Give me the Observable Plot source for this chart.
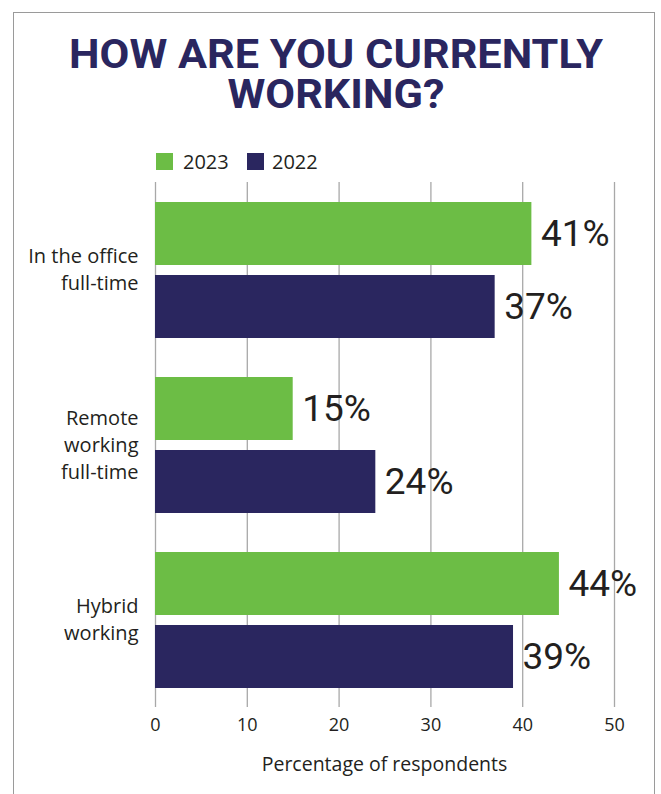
<!DOCTYPE html>
<html><head><meta charset="utf-8">
<script src="https://cdn.jsdelivr.net/npm/d3@7"></script>
<script src="https://cdn.jsdelivr.net/npm/@observablehq/plot@0.6"></script>
<style>
html,body{margin:0;padding:0;background:#fff;}
#root{position:relative;width:661px;height:794px;overflow:hidden;font-family:"Open Sans",sans-serif;background:#fff;}
#frame{position:absolute;left:13px;top:12px;width:642px;height:820px;border:1.5px solid #9a9a9a;border-bottom:none;box-sizing:border-box;}
#titlesvg{position:absolute;left:0;top:0;}
.sw{position:absolute;width:17px;height:17px;}
.lt{position:absolute;font-family:"Open Sans",sans-serif;font-size:20px;line-height:20px;color:#231f20;white-space:nowrap;}
#chart{position:absolute;left:0;top:175px;}
#xlabel{position:absolute;left:155px;width:459px;top:754px;text-align:center;font-family:"Open Sans",sans-serif;font-size:19.5px;line-height:19.5px;color:#231f20;white-space:nowrap;}
</style>
</head>
<body>
<div id="root">
  <div id="frame"></div>
  <svg id="titlesvg" width="661" height="125">
    <text id="title" transform="translate(336,0)" text-anchor="middle" font-family="Roboto, sans-serif" font-weight="700" font-size="40" fill="#2a265f"><tspan id="t1" x="0" y="68">HOW ARE YOU CURRENTLY</tspan><tspan x="0" y="108">WORKING?</tspan></text>
  </svg>
  <div id="legend"></div>
  <div id="chart"></div>
  <div id="xlabel">Percentage of respondents</div>
</div>
<script>
const categories = ["In the office full-time", "Remote working full-time", "Hybrid working"];
const categoryLabels = ["In the office\nfull-time", "Remote\nworking\nfull-time", "Hybrid\nworking"];
const years = ["2023", "2022"];
const values2023 = [41, 15, 44];
const values2022 = [37, 24, 39];
const xTicks = [0, 10, 20, 30, 40, 50];
const colors = ["#6cbd45", "#2a265f"];

const data = categories.flatMap((c, i) => [
  {category: c, label: categoryLabels[i], year: years[0], value: values2023[i]},
  {category: c, label: categoryLabels[i], year: years[1], value: values2022[i]}
]);

// Title horizontal fit (condensed look)
const t1 = document.getElementById("t1");
const title = document.getElementById("title");
function fitTitle(){
  title.setAttribute("transform", "translate(336,0)");
  const w = t1.getComputedTextLength();
  if (w > 0) title.setAttribute("transform", `translate(336,0) scale(${534 / w},1)`);
}
fitTitle();
if (document.fonts && document.fonts.ready) document.fonts.ready.then(fitTitle);

// Legend
const legend = document.getElementById("legend");
const legendPos = [{sx: 156, tx: 183}, {sx: 247, tx: 272}];
years.forEach((y, i) => {
  const s = document.createElement("div");
  s.className = "sw";
  s.style.left = legendPos[i].sx + "px";
  s.style.top = "153px";
  s.style.background = colors[i];
  legend.appendChild(s);
  const t = document.createElement("div");
  t.className = "lt";
  t.style.left = legendPos[i].tx + "px";
  t.style.top = "152px";
  t.textContent = y;
  legend.appendChild(t);
});

const chart = Plot.plot({
  width: 661,
  height: 619,
  marginTop: 7,
  marginBottom: 87,
  marginLeft: 155,
  marginRight: 47,
  style: {fontFamily: "'Open Sans', sans-serif", fontSize: "18px", color: "#231f20", background: "transparent"},
  x: {domain: [0, 50], ticks: xTicks, tickSize: 0, tickPadding: 11, label: null},
  y: {domain: years, paddingInner: 0.137, paddingOuter: 0.267, axis: null},
  fy: {domain: categories, padding: 0, axis: null},
  color: {domain: years, range: colors},
  marks: [
    Plot.ruleX(xTicks, {x: d => d, stroke: "#a8a8a8", strokeWidth: 1.3}),
    Plot.barX(data, {x: "value", y: "year", fy: "category", fill: "year"}),
    Plot.text(data, {x: "value", y: "year", fy: "category", text: d => `${d.value}%`, textAnchor: "start", dx: 9,
      fontSize: 37, fontFamily: "Roboto, sans-serif", fontWeight: 400, fill: "#231f20"}),
    Plot.text(data.filter(d => d.year === years[0]), {fy: "category", text: "label", frameAnchor: "left", textAnchor: "end", dx: -17, dy: -2,
      fontSize: 20, lineHeight: 27 / 20, fill: "#231f20"})
  ]
});
document.getElementById("chart").appendChild(chart);
</script>
</body></html>
